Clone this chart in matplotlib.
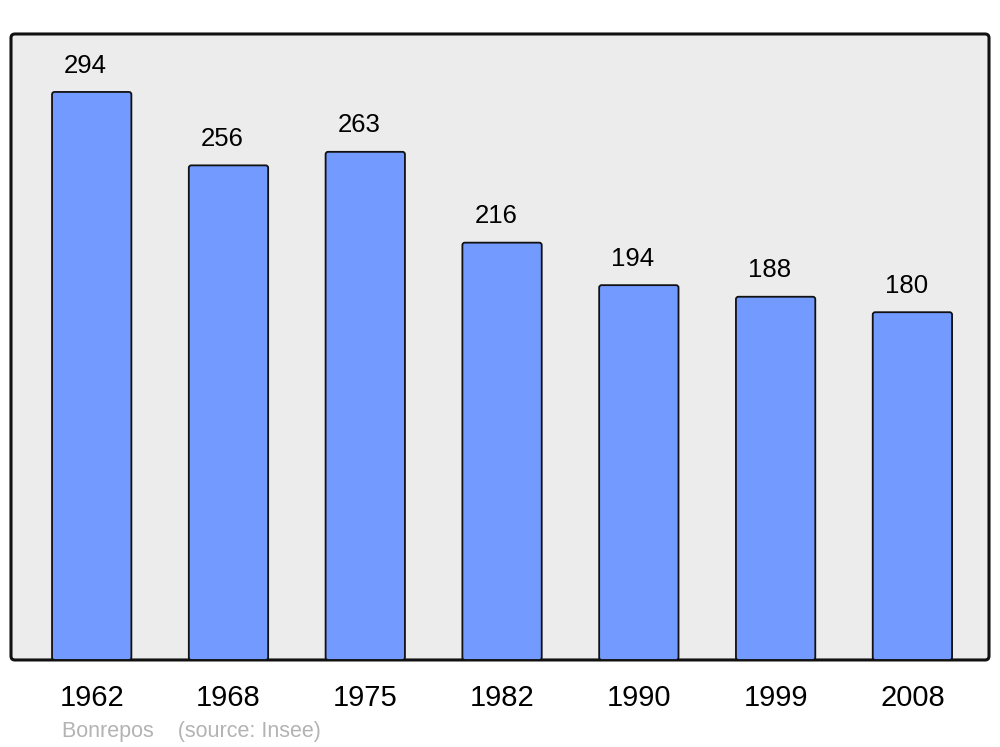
import matplotlib
matplotlib.use('Agg')
import matplotlib.pyplot as plt
from matplotlib.patches import FancyBboxPatch

years = ['1962', '1968', '1975', '1982', '1990', '1999', '2008']
population = [294, 256, 263, 216, 194, 188, 180]

plt.rcParams['font.family'] = ['Liberation Sans', 'DejaVu Sans']

fig = plt.figure(figsize=(10, 7.47), dpi=100)
ax = fig.add_axes([0.011, 0.1165, 0.978, 0.838])
ax.set_xlim(-0.59, 6.56)
ax.set_ylim(0, 324)
ax.patch.set_visible(False)
for s in ax.spines.values():
    s.set_visible(False)

# rounded background frame
frame = FancyBboxPatch((0, 0), 1, 1, boxstyle="round,pad=0,rounding_size=0.004",
                       transform=ax.transAxes, facecolor='#ececec',
                       edgecolor='#111111', linewidth=2.2, zorder=0,
                       mutation_aspect=978 / 626, clip_on=False)
ax.add_patch(frame)

bars = ax.bar(range(len(years)), population, width=0.58)
px_x = 978 / (6.56 + 0.59)
px_y = 626 / 324
r = 2.5 / px_x
for b in bars:
    b.set_visible(False)
    p = FancyBboxPatch((b.get_x(), b.get_y()), b.get_width(), b.get_height(),
                       boxstyle=f"round,pad=0,rounding_size={r}",
                       mutation_aspect=(2.5 / px_y) / r,
                       facecolor='#729aff', edgecolor='#111111', linewidth=1.3,
                       zorder=2)
    ax.add_patch(p)

# value labels sit a little left of the bar centre, as in the original
for i, v in enumerate(population):
    ax.annotate(str(v), (i, v), xytext=(-4.5, 19), textcoords='offset points',
                ha='center', va='center', fontsize=18.5, color='black')

ax.set_xticks(range(len(years)))
ax.set_xticklabels(years, fontsize=21)
ax.tick_params(axis='x', length=0, pad=17)
ax.set_yticks([])

fig.text(0.062, 1 - 732 / 747, 'Bonrepos    (source: Insee)', fontsize=15.5,
         color='#b3b3b3', ha='left', va='center')

fig.savefig('out.png', dpi=100)
